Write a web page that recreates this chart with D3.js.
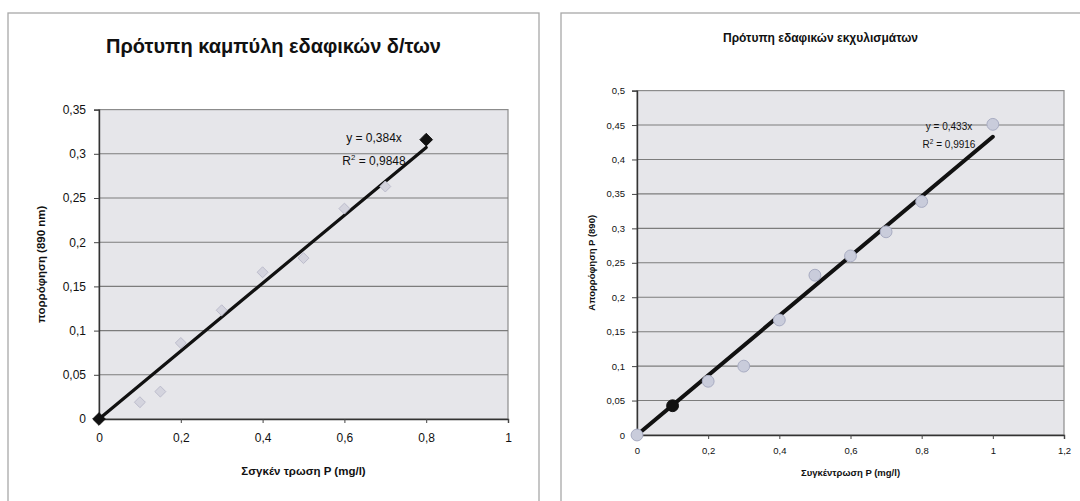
<!DOCTYPE html>
<html>
<head>
<meta charset="utf-8">
<script src="https://cdn.jsdelivr.net/npm/d3@7"></script>
<style>
  html, body { margin: 0; padding: 0; background: #ffffff; }
  svg { display: block; font-family: Arial, "Liberation Sans", sans-serif; }
</style>
</head>
<body>
<svg id="chart" width="1080" height="501"></svg>
<script>
// Soil standard curve (left panel)
const soilTitle = "Πρότυπη καμπύλη εδαφικών δ/των";
const soilConc = [0, 0.1, 0.15, 0.2, 0.3, 0.4, 0.5, 0.6, 0.7, 0.8];
const soilAbs  = [0, 0.019, 0.031, 0.086, 0.123, 0.166, 0.182, 0.238, 0.263, 0.316];
const soilDark = [0, 9];
const soilSlope = 0.384;
const soilR2 = "0,9848";
const soilXTicks = [0, 0.2, 0.4, 0.6, 0.8, 1];
const soilYTicks = [0, 0.05, 0.1, 0.15, 0.2, 0.25, 0.3, 0.35];

// Soil extracts standard (right panel)
const extTitle = "Πρότυπη εδαφικών εκχυλισμάτων";
const extConc = [0, 0.1, 0.2, 0.3, 0.4, 0.5, 0.6, 0.7, 0.8, 1.0];
const extAbs  = [0, 0.0425, 0.078, 0.1, 0.167, 0.232, 0.26, 0.295, 0.339, 0.451];
const extDark = [1];
const extSlope = 0.433;
const extR2 = "0,9916";
const extXTicks = [0, 0.2, 0.4, 0.6, 0.8, 1, 1.2];
const extYTicks = [0, 0.05, 0.1, 0.15, 0.2, 0.25, 0.3, 0.35, 0.4, 0.45, 0.5];

const fmt = v => String(+v.toFixed(2)).replace(".", ",");
const fmtSlope = v => String(+v.toFixed(3)).replace(".", ",");
const svg = d3.select("#chart");

// square diamond marker (rotated square)
const diamondSq = {
  draw(ctx, size) {
    const r = Math.sqrt(size) / 2 * Math.SQRT2;
    ctx.moveTo(0, -r); ctx.lineTo(r, 0); ctx.lineTo(0, r); ctx.lineTo(-r, 0); ctx.closePath();
  }
};

function panel(cfg) {
  const g = svg.append("g");
  // outer chart frame
  g.append("rect")
    .attr("x", cfg.frame[0]).attr("y", cfg.frame[1])
    .attr("width", cfg.frame[2]).attr("height", cfg.frame[3])
    .attr("fill", "#ffffff").attr("stroke", "#a8a8a8").attr("stroke-width", 1.3);

  const x = d3.scaleLinear().domain(cfg.xDomain).range([cfg.plot.left, cfg.plot.right]);
  const y = d3.scaleLinear().domain(cfg.yDomain).range([cfg.plot.bottom, cfg.plot.top]);

  // plot area
  g.append("rect")
    .attr("x", x(cfg.xDomain[0])).attr("y", y(cfg.yDomain[1]))
    .attr("width", x(cfg.xDomain[1]) - x(cfg.xDomain[0]))
    .attr("height", y(cfg.yDomain[0]) - y(cfg.yDomain[1]))
    .attr("fill", "#e6e6ea").attr("stroke", "#8c8c8c").attr("stroke-width", 1.2);

  // horizontal gridlines
  g.append("g").selectAll("line")
    .data(cfg.yTicks.filter(v => v > 0 && v < cfg.yDomain[1]))
    .join("line")
    .attr("x1", x(cfg.xDomain[0])).attr("x2", x(cfg.xDomain[1]))
    .attr("y1", d => y(d)).attr("y2", d => y(d))
    .attr("stroke", "#7c7c7c").attr("stroke-width", 1.1);

  // axes
  const yAxis = g.append("g")
    .attr("transform", `translate(${x(cfg.xDomain[0])},0)`)
    .call(d3.axisLeft(y).tickValues(cfg.yTicks).tickFormat(fmt).tickSize(5).tickPadding(cfg.tickPad));
  const xAxis = g.append("g")
    .attr("transform", `translate(0,${y(cfg.yDomain[0])})`)
    .call(d3.axisBottom(x).tickValues(cfg.xTicks).tickFormat(fmt).tickSize(4).tickPadding(cfg.xTickPad));
  [yAxis, xAxis].forEach(a => {
    a.select(".domain").attr("stroke", "#333").attr("stroke-width", 1.4);
    a.selectAll(".tick line").attr("stroke", "#444");
    a.selectAll("text").attr("fill", "#111").attr("font-size", cfg.tickFont)
      .attr("font-family", "Arial, 'Liberation Sans', sans-serif");
  });

  // trendline through the origin
  const xEnd = cfg.conc[cfg.conc.length - 1];
  g.append("line")
    .attr("x1", x(0)).attr("y1", y(0))
    .attr("x2", x(xEnd)).attr("y2", y(cfg.slope * xEnd))
    .attr("stroke", "#111").attr("stroke-width", cfg.lineWidth).attr("stroke-linecap", "round");

  // measured standards
  const pts = cfg.conc.map((c, i) => ({ c, a: cfg.abs[i], dark: cfg.dark.includes(i) }));
  g.append("g").selectAll("path")
    .data(pts)
    .join("path")
    .attr("transform", d => `translate(${x(d.c)},${y(d.a)})`)
    .attr("d", d => d3.symbol().type(cfg.symbol).size(d.dark ? cfg.darkSize : cfg.lightSize)())
    .attr("fill", d => d.dark ? "#111" : cfg.lightFill)
    .attr("stroke", d => d.dark ? "#111" : cfg.lightStroke)
    .attr("stroke-width", 1)
    .attr("stroke-linejoin", "round");

  // equation labels
  g.append("text")
    .attr("x", cfg.eqPos[0]).attr("y", cfg.eqPos[1])
    .attr("text-anchor", "middle").attr("font-size", cfg.eqFont).attr("fill", "#111")
    .text(`y = ${fmtSlope(cfg.slope)}x`);
  const r2 = g.append("text")
    .attr("x", cfg.eqPos[0]).attr("y", cfg.eqPos[1] + cfg.eqGap)
    .attr("text-anchor", "middle").attr("font-size", cfg.eqFont).attr("fill", "#111");
  r2.append("tspan").text("R");
  r2.append("tspan").attr("dy", -cfg.eqFont * 0.4).attr("font-size", cfg.eqFont * 0.65).text("2");
  r2.append("tspan").attr("dy", cfg.eqFont * 0.4).text(` = ${cfg.r2}`);

  // titles
  g.append("text")
    .attr("x", cfg.frame[0] + cfg.titleCx).attr("y", cfg.titleY)
    .attr("text-anchor", "middle").attr("font-weight", "bold").attr("font-size", cfg.titleFont)
    .attr("fill", "#111").text(cfg.title);
  g.append("text")
    .attr("x", (cfg.plot.left + cfg.plot.right) / 2).attr("y", cfg.xTitleY)
    .attr("text-anchor", "middle").attr("font-weight", "bold").attr("font-size", cfg.axisFont)
    .attr("fill", "#111").text(cfg.xTitle);
  g.append("text")
    .attr("transform", `translate(${cfg.yTitleX},${(cfg.plot.top + cfg.plot.bottom) / 2}) rotate(-90)`)
    .attr("text-anchor", "middle").attr("font-weight", "bold").attr("font-size", cfg.axisFont)
    .attr("fill", "#111").text(cfg.yTitle);
}

panel({
  frame: [8, 13, 531, 520],
  plot: { left: 99, right: 508, top: 109.6, bottom: 419 },
  xDomain: [0, 1], yDomain: [0, 0.35],
  xTicks: soilXTicks, yTicks: soilYTicks,
  conc: soilConc, abs: soilAbs, dark: soilDark,
  slope: soilSlope, r2: soilR2,
  symbol: diamondSq, lightSize: 60, darkSize: 80,
  lightFill: "#d4d4de", lightStroke: "#bcbccc",
  lineWidth: 3.2,
  tickFont: 12, tickPad: 8, xTickPad: 10,
  eqPos: [374, 142], eqGap: 23, eqFont: 12,
  title: soilTitle, titleCx: 265.5, titleY: 53, titleFont: 20,
  xTitle: "Σσγκέν τρωση P (mg/l)", xTitleY: 475, axisFont: 11.5,
  yTitle: "πορρόφηση (890 nm)", yTitleX: 45
});

panel({
  frame: [561, 13, 560, 520],
  plot: { left: 637, right: 1064, top: 90.6, bottom: 435 },
  xDomain: [0, 1.2], yDomain: [0, 0.5],
  xTicks: extXTicks, yTicks: extYTicks,
  conc: extConc, abs: extAbs, dark: extDark,
  slope: extSlope, r2: extR2,
  symbol: d3.symbolCircle, lightSize: 110, darkSize: 110,
  lightFill: "#c9ccdb", lightStroke: "#a8acc2",
  lineWidth: 4,
  tickFont: 9.5, tickPad: 7, xTickPad: 8,
  eqPos: [949, 130], eqGap: 18, eqFont: 10,
  title: extTitle, titleCx: 259.5, titleY: 42, titleFont: 12,
  xTitle: "Συγκέντρωση P (mg/l)", xTitleY: 476, axisFont: 9.5,
  yTitle: "Απορρόφηση P (890)", yTitleX: 595
});
</script>
</body>
</html>
